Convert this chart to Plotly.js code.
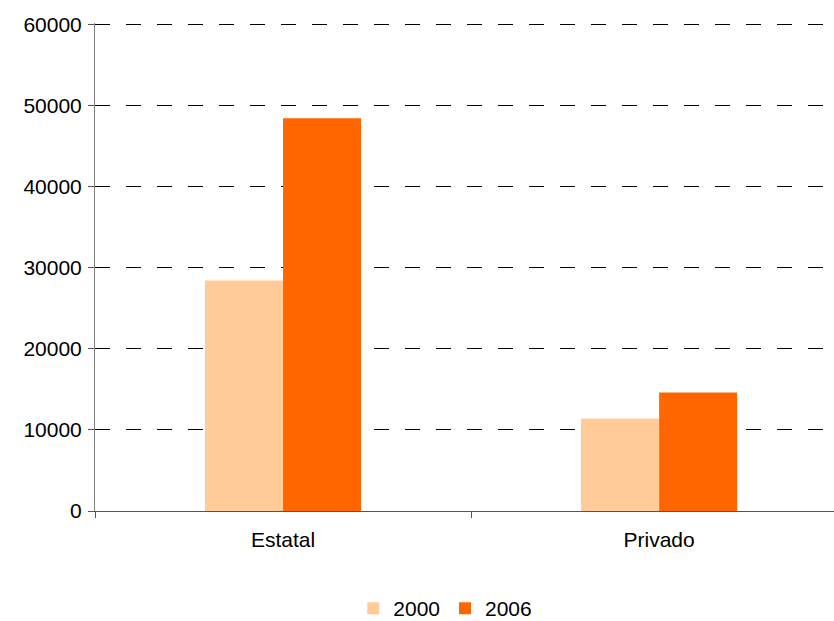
<!DOCTYPE html>
<html>
<head>
<meta charset="utf-8">
<script src="https://cdn.plot.ly/plotly-3.0.1.min.js"></script>
<style>html,body{margin:0;padding:0;background:#fff;}#chart{width:834px;height:621px;}</style>
</head>
<body>
<div id="chart"></div>
<script>
var categories = ["Estatal", "Privado"];
var seriesNames = ["2000", "2006"];
var values2000 = [28400, 11400];
var values2006 = [48400, 14600];
var yTicks = [0, 10000, 20000, 30000, 40000, 50000, 60000];

var traces = [
  {type: "bar", name: seriesNames[0], x: categories, y: values2000, marker: {color: "#FFCC99"}},
  {type: "bar", name: seriesNames[1], x: categories, y: values2006, marker: {color: "#FF6600"}}
];

var layout = {
  width: 834, height: 621,
  margin: {l: 95, r: 0, t: 23, b: 110, autoexpand: false},
  paper_bgcolor: "#fff", plot_bgcolor: "#fff",
  font: {family: "Liberation Sans, Arial, sans-serif", size: 21, color: "#000"},
  barmode: "group",
  bargap: 0.585,
  bargroupgap: 0,
  showlegend: true,
  legend: {orientation: "h", xref: "paper", x: 0.474, xanchor: "center", y: -0.2, yref: "paper", yanchor: "middle", font: {size: 21}, itemwidth: 30, tracegroupgap: 0},
  xaxis: {
    type: "category",
    range: [-0.5, 1.465],
    showline: true, linecolor: "#555", linewidth: 1,
    ticks: "outside", tickson: "boundaries", ticklen: 6, tickcolor: "#555",
    showgrid: false, zeroline: false,
    ticklabelstandoff: 10,
    tickfont: {size: 21}
  },
  yaxis: {
    range: [0, 60150],
    tickvals: yTicks,
    ticktext: yTicks.map(String),
    showline: true, linecolor: "#808080", linewidth: 1,
    ticks: "outside", ticklen: 6, tickcolor: "#555",
    ticklabelstandoff: 2,
    showgrid: true, gridcolor: "#000", gridwidth: 1, griddash: "15px,16px",
    zeroline: false,
    tickfont: {size: 21}
  }
};

Plotly.newPlot("chart", traces, layout, {displayModeBar: false, staticPlot: true});
</script>
</body>
</html>
